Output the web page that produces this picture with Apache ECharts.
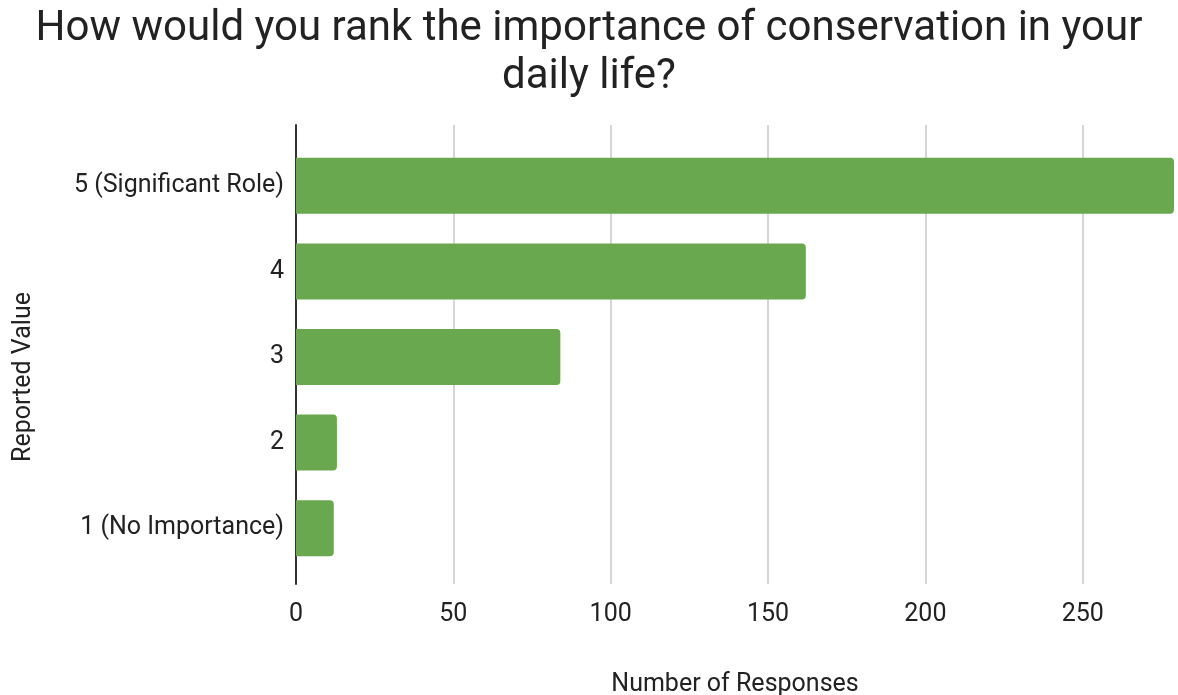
<!DOCTYPE html>
<html>
<head>
<meta charset="utf-8">
<script src="https://cdn.jsdelivr.net/npm/echarts@6/dist/echarts.min.js"></script>
<style>
  html, body { margin: 0; padding: 0; background: #fff; }
  #chart { width: 1178px; height: 695px; }
</style>
</head>
<body>
<div id="chart"></div>
<script>
// data
const categories = ['1 (No Importance)', '2', '3', '4', '5 (Significant Role)'];
const responses = [12, 13, 84, 162, 279];
const xMax = 279;
const xInterval = 50;

const font = 'Roboto';
const textColor = '#222222';
const labelSize = 25;

const chart = echarts.init(document.getElementById('chart'));

const option = {
  backgroundColor: '#ffffff',
  textStyle: { fontFamily: font },
  title: {
    text: 'How would you rank the importance of conservation in your\ndaily life?',
    left: 'center',
    top: 0,
    textStyle: {
      fontFamily: font,
      fontSize: 42,
      fontWeight: 'normal',
      color: textColor,
      lineHeight: 48,
      align: 'center'
    }
  },
  grid: [
    // outer frame: gridlines + axis line
    { left: 296, right: 4, top: 125, bottom: 111, outerBoundsMode: 'none' },
    // inner area where the bars sit
    { left: 296, right: 4, top: 143, bottom: 124, outerBoundsMode: 'none' }
  ],
  xAxis: [
    {
      type: 'value',
      gridIndex: 0,
      min: 0,
      max: xMax,
      interval: xInterval,
      name: 'Number of Responses',
      nameLocation: 'middle',
      nameGap: 88,
      nameTextStyle: { fontFamily: font, fontSize: labelSize, color: textColor, verticalAlign: 'top' },
      axisLine: { show: false },
      axisTick: { show: false },
      axisLabel: {
        fontFamily: font,
        fontSize: labelSize,
        color: textColor,
        margin: 18,
        showMaxLabel: false
      },
      splitLine: {
        show: true,
        showMinLine: false,
        showMaxLine: false,
        lineStyle: { color: '#d6d6d6', width: 2 }
      }
    },
    {
      type: 'value',
      gridIndex: 1,
      min: 0,
      max: xMax,
      show: false
    }
  ],
  yAxis: [
    {
      type: 'category',
      gridIndex: 0,
      data: [''],
      name: 'Reported Value',
      nameLocation: 'middle',
      nameRotate: 90,
      nameGap: 260,
      nameTextStyle: { fontFamily: font, fontSize: labelSize, color: textColor, padding: [0, 45, 0, 0] },
      axisLine: { show: true, lineStyle: { color: '#333333', width: 2 } },
      axisTick: { show: false },
      axisLabel: { show: false },
      splitLine: { show: false }
    },
    {
      type: 'category',
      gridIndex: 1,
      data: categories,
      axisLine: { show: false },
      axisTick: { show: false },
      axisLabel: {
        fontFamily: font,
        fontSize: labelSize,
        color: textColor,
        margin: 12
      }
    }
  ],
  series: [
    {
      type: 'bar',
      xAxisIndex: 1,
      yAxisIndex: 1,
      data: responses,
      barWidth: 56,
      itemStyle: {
        color: '#6aa84f',
        borderRadius: [0, 4, 4, 0]
      },
      z: 3
    }
  ]
};

chart.setOption(option);
</script>
</body>
</html>
